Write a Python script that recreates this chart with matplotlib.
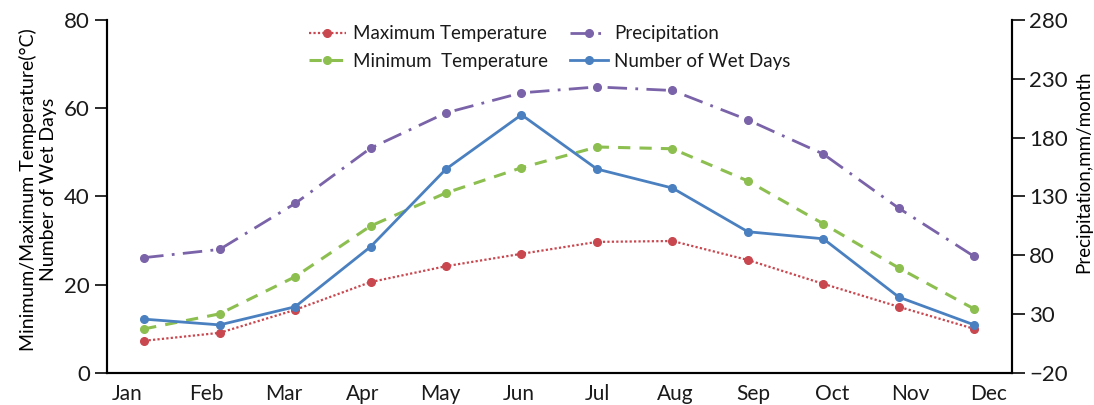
import matplotlib.pyplot as plt
import numpy as np

plt.rcParams['font.family'] = ['Lato', 'DejaVu Sans']
plt.rcParams['text.color'] = '#1a1a1a'
plt.rcParams['xtick.color'] = '#1a1a1a'
plt.rcParams['ytick.color'] = '#1a1a1a'

months = ['Jan', 'Feb', 'Mar', 'Apr', 'May', 'Jun',
          'Jul', 'Aug', 'Sep', 'Oct', 'Nov', 'Dec']
max_temp = [7.3, 9.1, 14.3, 20.6, 24.2, 27.0, 29.7, 29.9, 25.6, 20.2, 15.0, 10.0]
min_temp = [10.0, 13.4, 21.8, 33.3, 40.8, 46.5, 51.2, 50.8, 43.5, 33.8, 23.8, 14.5]
wet_days = [12.2, 10.9, 15.0, 28.6, 46.2, 58.5, 46.2, 41.9, 32.0, 30.4, 17.2, 10.9]
precip = [78, 85, 124, 171, 201, 218, 223, 220, 195, 166, 120, 79]

red = '#c9474f'
green = '#8cbf4f'
purple = '#7a63a8'
blue = '#4a80c0'

fig = plt.figure(figsize=(10.94, 4.05), dpi=100)
ax = fig.add_axes([0.098, 0.079, 0.827, 0.872])
ax2 = ax.twinx()

x = np.arange(len(months))
l1, = ax.plot(x, max_temp, color=red, ls=(0, (1, 1)), lw=1.6,
              marker='o', ms=5.5, label='Maximum Temperature')
l2, = ax.plot(x, min_temp, color=green, ls=(0, (4, 3)), lw=2.2,
              marker='o', ms=5.5, label='Minimum  Temperature')
l4, = ax.plot(x, wet_days, color=blue, ls='-', lw=2.0,
              marker='o', ms=5.5, label='Number of Wet Days')
l3, = ax2.plot(x, precip, color=purple, ls=(0, (7, 3, 1, 3)), lw=2.0,
               marker='o', ms=5.5, label='Precipitation')

ax.set_xlim(-0.49, 11.5)
ax.set_ylim(0, 80)
ax.set_yticks([0, 20, 40, 60, 80])
ax2.set_ylim(-20, 280)
ax2.set_yticks(np.arange(-20, 281, 50))

# month names sit a little wider apart than the points
ax.set_xticks(x * 1.037 - 0.22)
ax.set_xticklabels(months, fontsize=15)
ax.tick_params(axis='x', length=0, pad=8)
ax.tick_params(axis='y', labelsize=16, length=9, width=1.3, direction='out')
ax2.tick_params(axis='y', labelsize=16, length=9, width=1.3, direction='out')

for a in (ax, ax2):
    a.spines['top'].set_visible(False)
    for s in ('left', 'right', 'bottom'):
        a.spines[s].set_linewidth(1.5)

ax.set_ylabel('Minimum/Maximum Temperature(°C)\nNumber of Wet Days',
              fontsize=14, linespacing=1.2)
ax.yaxis.set_label_coords(-0.056, 0.52)
ax2.set_ylabel('Precipitation,mm/month', fontsize=13.5)
ax2.yaxis.set_label_coords(1.07, 0.57)

ax.legend([l1, l2, l3, l4],
          [l.get_label() for l in (l1, l2, l3, l4)],
          ncol=2, frameon=False, fontsize=13.5, handlelength=2.0,
          handletextpad=0.35, columnspacing=1.2, labelspacing=0.55,
          loc='upper left', bbox_to_anchor=(0.204, 1.032))

fig.savefig('out.png', dpi=100)
